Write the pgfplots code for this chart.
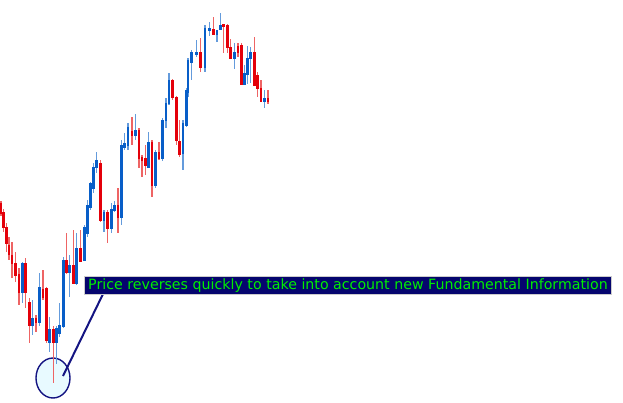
\documentclass[border=0pt]{standalone}
\usepackage{pgfplots}
\usepackage{pgfplotstable}
\pgfplotsset{compat=1.18}
\usepackage{fontspec}
\newfontfamily\dv{DejaVu Sans}
\definecolor{upbody}{RGB}{8,94,200}
\definecolor{upwick}{RGB}{100,155,220}
\definecolor{dnbody}{RGB}{228,0,10}
\definecolor{dnwick}{RGB}{238,100,100}
\definecolor{navyline}{RGB}{20,20,130}
\definecolor{boxfill}{RGB}{5,5,110}
\definecolor{ellfill}{RGB}{232,250,255}
\definecolor{txtgreen}{RGB}{0,240,0}

% image-pixel coordinates (y grows downward)
\pgfplotstableread{
x o h l c
1 203 201 216 213
3.5 212 209 232 227
6.5 227 223 252 243
9 245 237 260 254
12 255 242 278 263
15.5 263 252 282 275
19 274 268 305 292
25.8 263 258 308 292
29.2 302 298 343 325
36 318 315 332 322
43 289 270 300 297
46.5 288 287 343 340
53.2 329 326 383 342
66.5 260 233 274 272
73.2 265 230 284 283
80.3 248 230 262 261
100.5 163 160 222 220
107.8 212 210 243 228
118 205 188 233 217
132 131 117 145 135
139 130 128 168 158
142 157 155 177 160
145.5 158 145 175 165
152 142 140 197 185
159 152 142 160 158
172.5 80 79 100 97
176.5 97 96 145 140
179.8 141 120 157 154
200.5 52 38 72 67
213.5 29 17 35 34
223.8 24 24 53 26
227.2 25 24 53 47
230.8 47 39 59 58
238 46 43 57 52
241.5 45 43 85 84
254.5 52 37 85 85
257.8 75 72 97 88
261 88 80 101 101
268 98 90 104 101
}\down

\pgfplotstableread{
x o h l c
22.5 292 262 303 263
32.8 325 300 335 318
39.5 322 273 326 287
49.8 342 317 352 329
56.5 342 326 364 328
59.8 333 303 337 325
63.2 326 257 328 260
69.8 272 255 297 265
76.8 283 233 285 248
84.2 260 225 261 227
87.8 233 200 237 205
90.8 207 182 210 183
93.8 188 163 193 167
96.8 167 152 173 160
104 220 210 232 212
111.3 228 203 233 209
114.5 210 201 212 205
121.5 217 140 225 145
124.5 147 133 150 143
128 145 123 150 127
135.5 135 114 140 130
148.5 167 132 168 142
155.5 185 150 188 152
162.5 158 118 161 120
166 120 98 128 103
169 103 73 105 80
183 153 120 170 123
186.5 125 88 127 90
188 92 58 97 60
191.5 62 50 80 52
196.5 54 40 57 52
205 67 25 72 28
209.5 30 22 36 28
217 34 30 42 30
220.5 29 13 30 25
234.5 58 43 69 52
244.5 84 65 85 73
247.5 74 46 84 58
250.7 58 47 83 52
264.5 101 90 108 98
}\up

\pgfplotsset{candle/.style={only marks, forget plot, mark size=0pt,
  mark options={draw=none, fill=none, opacity=0},
  error bars/.cd, y dir=both, y explicit, error mark=none}}

\begin{document}
\begin{tikzpicture}
\begin{axis}[
  width=623pt, height=402pt, scale only axis,
  xmin=0, xmax=623, ymin=0, ymax=402, y dir=reverse,
  hide axis,
]
% highlight circle behind candles
\draw[navyline, line width=1.4pt, fill=ellfill] (axis cs:53,378) ellipse [x radius=17pt, y radius=20pt];

% wicks
\addplot[candle, error bar style={line width=1.2pt, color=dnwick}]
  table[x=x, y expr={(\thisrow{h}+\thisrow{l})/2}, y error expr={(\thisrow{l}-\thisrow{h})/2}] {\down};
\addplot[candle, error bar style={line width=1.2pt, color=upwick}]
  table[x=x, y expr={(\thisrow{h}+\thisrow{l})/2}, y error expr={(\thisrow{l}-\thisrow{h})/2}] {\up};
% bodies
\addplot[candle, error bar style={line width=2.9pt, color=dnbody}]
  table[x=x, y expr={(\thisrow{o}+\thisrow{c})/2}, y error expr={abs(\thisrow{c}-\thisrow{o})/2+0.5}] {\down};
\addplot[candle, error bar style={line width=2.9pt, color=upbody}]
  table[x=x, y expr={(\thisrow{o}+\thisrow{c})/2}, y error expr={abs(\thisrow{c}-\thisrow{o})/2+0.5}] {\up};

% annotation
\draw[navyline, line width=2pt] (axis cs:63,376) -- (axis cs:103,294);
\draw[boxfill, fill=boxfill] (axis cs:84,276) rectangle (axis cs:611,294);
\draw[gray!40, line width=0.6pt] (axis cs:84,276) rectangle (axis cs:611,294);
\node[anchor=west, inner sep=0pt, text=txtgreen, font=\dv\fontsize{14.2}{16}\selectfont]
  at (axis cs:88,285.5) {Price reverses quickly to take into account new Fundamental Information};
\end{axis}
\pgfresetboundingbox
\path (current axis.south west) rectangle (current axis.north east);
\end{tikzpicture}
\end{document}
